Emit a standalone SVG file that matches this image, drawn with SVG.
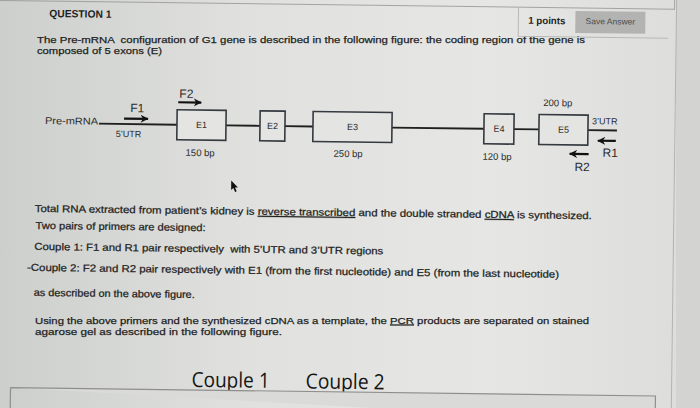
<svg xmlns="http://www.w3.org/2000/svg" width="700" height="408" viewBox="0 0 700 408">
<defs>
<linearGradient id="bg" x1="0" y1="0" x2="1" y2="0">
<stop offset="0" stop-color="#cdcfcc"/>
<stop offset="0.35" stop-color="#e0e1de"/>
<stop offset="0.7" stop-color="#e6e7e4"/>
<stop offset="1" stop-color="#dcdddb"/>
</linearGradient>
<marker id="ah" markerUnits="userSpaceOnUse" markerWidth="10" markerHeight="10" refX="7.5" refY="4.5" orient="auto">
<path d="M0,0.5 L8,4.5 L0,8.5 L2.5,4.5 Z" fill="#111"/>
</marker>
<style>
.t{font-family:"Liberation Sans",Arial,sans-serif;fill:#1e1e1e}
.b{font-size:10px;stroke:#1e1e1e;stroke-width:0.25}
.p{font-size:9.8px;stroke:#1e1e1e;stroke-width:0.25}
.lab{font-family:"Liberation Sans",Arial,sans-serif;fill:#2b2b2b}
.box{fill:#e4e5e3;stroke:#343a40;stroke-width:1.6}
.ln{stroke:#1f1f1f;stroke-width:1.8;fill:none}
.pr{stroke:#111;stroke-width:2.2;fill:none;marker-end:url(#ah)}
.big{font-family:"Open Sans","Liberation Sans",sans-serif;fill:#151515;font-size:21px}
</style>
</defs>
<rect x="0" y="0" width="700" height="408" fill="url(#bg)"/>
<rect x="676" y="0" width="24" height="408" fill="#d3d4d2"/>
<g id="intro">
<text class="t p" x="37" y="43" textLength="548" lengthAdjust="spacingAndGlyphs" xml:space="preserve">The Pre-mRNA  configuration of G1 gene is described in the following figure: the coding region of the gene is</text>
<text class="t p" x="37" y="54" textLength="125" lengthAdjust="spacingAndGlyphs">composed of 5 exons (E)</text>
</g>
<g id="pcr-text">
<text class="t p" x="35" y="323.5" textLength="554" lengthAdjust="spacingAndGlyphs">Using the above primers and the synthesized cDNA as a template, the <tspan text-decoration="underline">PCR</tspan> products are separated on stained</text>
<text class="t p" x="35" y="334.5" textLength="247" lengthAdjust="spacingAndGlyphs">agarose gel as described in the following figure.</text>
</g>
<g transform="rotate(0.75 350 200)">
<g id="header">
<path d="M-10,5 H672 V-12" fill="none" stroke="#a3a4a2" stroke-width="1"/>
<path d="M674,-12 V420" fill="none" stroke="#b3b4b2" stroke-width="1"/>
<text class="t" x="47" y="21" font-size="10.5" font-weight="bold" textLength="62" lengthAdjust="spacingAndGlyphs">QUESTION 1</text>
<path d="M516,5 V34 H666" fill="none" stroke="#b8b9b7" stroke-width="1"/>
<text class="t" x="526" y="21.5" font-size="10" font-weight="bold" textLength="37" lengthAdjust="spacingAndGlyphs">1 points</text>
<rect x="573" y="8" width="70" height="22" fill="#b3b4b2"/>
<text x="608" y="21" font-family="Liberation Sans, Arial, sans-serif" font-size="8.5" text-anchor="middle" fill="#4a4a4a">Save Answer</text>
</g>
<g id="connectors">
<path class="ln" d="M98,127 H176"/>
<path class="ln" d="M225,127 H259"/>
<path class="ln" d="M284,127 H312"/>
<path class="ln" d="M391,127 H483"/>
<path class="ln" d="M513,127 H538"/>
<path class="ln" d="M587,127 H616"/>
</g>
<g id="premrna">
<text class="lab" x="44" y="128" font-size="10" textLength="53" lengthAdjust="spacingAndGlyphs">Pre-mRNA</text>
<text class="lab" x="115" y="140" font-size="9">5’UTR</text>
</g>
<g id="e1">
<rect class="box" x="176" y="112" width="49" height="30"/>
<text class="lab" x="200.5" y="130" font-size="9" text-anchor="middle">E1</text>
<text class="lab" x="185" y="158" font-size="9.5">150 bp</text>
</g>
<g id="e2">
<rect class="box" x="259" y="112" width="25" height="30"/>
<text class="lab" x="271.5" y="130" font-size="9" text-anchor="middle">E2</text>
</g>
<g id="e3">
<rect class="box" x="312" y="112" width="79" height="30"/>
<text class="lab" x="351.5" y="130" font-size="9" text-anchor="middle">E3</text>
<text class="lab" x="333" y="157" font-size="9.5">250 bp</text>
</g>
<g id="e4">
<rect class="box" x="483" y="112" width="30" height="30"/>
<text class="lab" x="498" y="130" font-size="9" text-anchor="middle">E4</text>
<text class="lab" x="482" y="158" font-size="9.5">120 bp</text>
</g>
<g id="e5">
<rect class="box" x="538" y="112" width="49" height="30"/>
<text class="lab" x="562.5" y="130" font-size="9" text-anchor="middle">E5</text>
<text class="lab" x="542" y="103.5" font-size="9.5">200 bp</text>
<text class="lab" x="591" y="121" font-size="9">3’UTR</text>
</g>
<g id="f1">
<path class="pr" d="M123,121.5 H147"/>
<text class="lab" x="129" y="115" font-size="12">F1</text>
</g>
<g id="f2">
<path class="pr" d="M177,104.5 H200"/>
<text class="lab" x="178" y="100" font-size="12">F2</text>
</g>
<g id="r1">
<path class="pr" d="M615,137.5 H597"/>
<text class="lab" x="602" y="153.5" font-size="12">R1</text>
</g>
<g id="r2">
<path class="pr" d="M588,151 H569"/>
<text class="lab" x="574" y="168" font-size="12">R2</text>
</g>
<g id="cursor">
<path d="M231,182 L231,191.5 L233.2,189.5 L235,193.5 L236.6,192.8 L234.8,188.9 L237.8,188.9 Z" fill="#111"/>
</g>
<g id="body">
<text class="t b" x="35" y="216" textLength="557" lengthAdjust="spacingAndGlyphs">Total RNA extracted from patient’s kidney is <tspan text-decoration="underline">reverse transcribed</tspan> and the double stranded <tspan text-decoration="underline">cDNA</tspan> is synthesized.</text>
<text class="t b" x="36" y="233" textLength="170" lengthAdjust="spacingAndGlyphs">Two pairs of primers are designed:</text>
<text class="t b" x="35" y="254" textLength="349" lengthAdjust="spacingAndGlyphs" xml:space="preserve">Couple 1: F1 and R1 pair respectively  with 5’UTR and 3’UTR regions</text>
<text class="t b" x="28" y="275" textLength="532" lengthAdjust="spacingAndGlyphs">-Couple 2: F2 and R2 pair respectively with E1 (from the first nucleotide) and E5 (from the last nucleotide)</text>
<text class="t b" x="35" y="300" textLength="161" lengthAdjust="spacingAndGlyphs">as described on the above figure.</text>
</g>
<g id="gel-labels">
<text class="big" x="194" y="389" textLength="78" lengthAdjust="spacingAndGlyphs">Couple 1</text>
<text class="big" x="308" y="389" textLength="79" lengthAdjust="spacingAndGlyphs">Couple 2</text>
</g>
<g id="gel-frame">
<path d="M13,392 H658 V420 M13,392 V420" fill="#dadbd9" stroke="#8e8f8d" stroke-width="1.2"/>
</g>
</g>
</svg>
